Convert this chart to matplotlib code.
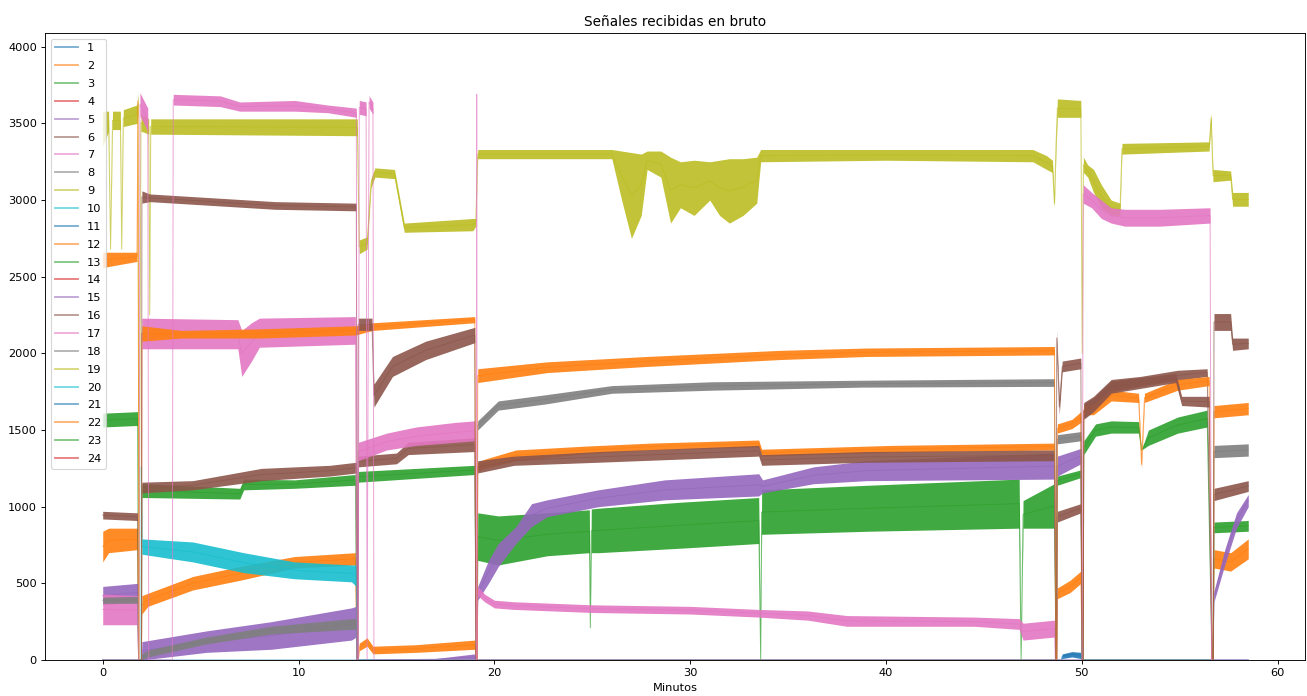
import numpy as np
import matplotlib
matplotlib.use("Agg")
import matplotlib.pyplot as plt

# every series: (minute, low edge of the noise band, high edge)
END = 58.5
ZERO = [(0, 0, 0), (END, 0, 0)]

s01 = [(0, 0, 0), (48.95, 0, 0), (49.0, 10, 40), (49.5, 20, 55), (49.95, 10, 50), (50.0, 0, 0), (END, 0, 0)]

s02 = [(0, 640, 840), (0.3, 700, 860), (1.78, 720, 860), (1.83, 0, 0), (1.98, 0, 0), (2.0, 300, 420),
       (2.3, 350, 435), (4.6, 457, 545), (7.0, 520, 610), (9.8, 600, 675), (12.9, 620, 700), (12.98, 0, 0),
       (13.05, 0, 0), (13.1, 60, 110), (13.5, 90, 145), (13.8, 40, 90), (16.0, 50, 100), (19.0, 70, 130),
       (19.08, 0, 0), (19.12, 0, 0), (19.15, 1230, 1290), (19.5, 1250, 1310), (21.1, 1300, 1370),
       (24.6, 1345, 1395), (28.0, 1370, 1415), (33.5, 1390, 1435), (33.65, 1330, 1375), (40.3, 1355, 1400),
       (48.6, 1370, 1415), (48.68, 0, 0), (48.72, 0, 0), (48.75, 400, 470), (49.4, 440, 520),
       (49.95, 500, 580), (50.02, 0, 0), (56.68, 0, 0), (56.75, 600, 720), (57.6, 580, 700), (END, 660, 790)]

s03 = [(0, 1520, 1610), (1.78, 1530, 1620), (1.83, 0, 0), (1.98, 0, 0), (2.0, 1060, 1150), (7.0, 1050, 1120),
       (7.2, 1110, 1180), (9.8, 1120, 1175), (12.9, 1140, 1210), (12.98, 0, 0), (13.03, 0, 0),
       (13.05, 1160, 1230), (19.0, 1210, 1270), (19.08, 0, 0), (19.12, 0, 0), (19.15, 650, 960),
       (20.2, 620, 940), (22.7, 680, 960), (24.85, 700, 980), (24.9, 210, 210), (24.95, 700, 985),
       (25.3, 700, 990), (29.6, 730, 1030), (33.5, 760, 1060), (33.6, 0, 0), (33.65, 820, 1110),
       (39.1, 840, 1140), (46.8, 860, 1180), (46.9, 0, 0), (47.0, 860, 1040), (48.6, 860, 1150),
       (48.68, 0, 0), (48.75, 1140, 1200), (49.95, 1190, 1240), (50.02, 0, 0), (50.07, 0, 0),
       (50.1, 1340, 1430), (50.7, 1460, 1540), (51.5, 1480, 1560), (52.9, 1480, 1555), (53.05, 1370, 1370),
       (53.4, 1400, 1500), (54.9, 1480, 1585), (56.4, 1520, 1630), (56.65, 0, 0), (56.72, 0, 0),
       (56.75, 830, 900), (END, 840, 910)]

s05 = [(0, 360, 480), (1.78, 380, 500), (1.83, 0, 0), (1.98, 0, 0), (2.0, 0, 120), (5.3, 50, 190),
       (8.6, 70, 250), (12.7, 130, 340), (12.95, 150, 350), (13.0, 0, 0), (17.0, 0, 10), (19.0, 0, 40),
       (19.1, 0, 0), (19.15, 390, 480), (19.7, 500, 650), (20.2, 610, 760), (21.1, 760, 870),
       (21.9, 870, 1020), (22.7, 935, 1045), (25.3, 1000, 1110), (28.7, 1045, 1175), (33.5, 1070, 1215),
       (33.7, 1090, 1175), (36.3, 1150, 1260), (39.0, 1170, 1300), (48.6, 1180, 1350), (48.68, 0, 0),
       (48.72, 0, 0), (48.75, 1200, 1330), (49.95, 1280, 1380), (50.02, 0, 0), (56.68, 0, 0),
       (56.75, 380, 450), (57.3, 620, 720), (57.9, 860, 960), (END, 1000, 1080)]

s06 = [(0, 920, 970), (1.78, 910, 960), (1.83, 0, 0), (1.98, 0, 0), (2.0, 1090, 1160), (4.6, 1110, 1170),
       (8.1, 1170, 1250), (11.6, 1200, 1270), (12.95, 1220, 1290), (13.0, 0, 0), (13.03, 0, 0),
       (13.05, 1260, 1330), (15.0, 1280, 1350), (15.6, 1340, 1420), (19.0, 1360, 1450), (19.08, 0, 0),
       (19.12, 0, 0), (19.15, 1220, 1300), (21.0, 1270, 1330), (25.3, 1290, 1360), (33.5, 1330, 1400),
       (33.65, 1270, 1340), (39.0, 1290, 1360), (48.6, 1300, 1370), (48.68, 0, 0), (48.72, 0, 0),
       (48.75, 900, 970), (49.95, 960, 1020), (50.02, 0, 0), (50.07, 0, 0), (50.1, 1580, 1680),
       (50.6, 1630, 1720), (51.5, 1750, 1830), (53.0, 1785, 1850), (54.9, 1825, 1890), (56.4, 1850, 1900),
       (56.65, 0, 0), (56.72, 0, 0), (56.75, 1040, 1120), (END, 1100, 1170)]

s07 = [(0, 230, 430), (1.78, 230, 420), (1.83, 0, 0), (1.98, 0, 0), (2.0, 2030, 2230), (6.9, 2030, 2220),
       (7.1, 1850, 2150), (7.6, 1950, 2200), (8.0, 2040, 2230), (12.9, 2060, 2240), (12.98, 0, 0),
       (13.03, 0, 0), (13.05, 1300, 1420), (14.5, 1370, 1480), (16.0, 1400, 1520), (18.0, 1420, 1550),
       (19.0, 1430, 1560), (19.08, 0, 0), (19.12, 0, 0), (19.15, 420, 480), (19.5, 380, 430),
       (20.0, 340, 390), (21.0, 330, 380), (25.0, 310, 360), (30.0, 300, 350), (33.5, 280, 330),
       (36.0, 260, 320), (38.0, 220, 290), (44.5, 220, 280), (46.8, 200, 270), (47.0, 130, 240),
       (48.6, 150, 260), (48.65, 0, 0), (END, 0, 0)]

s08 = [(0, 370, 410), (1.78, 370, 415), (1.83, 0, 0), (1.98, 0, 0), (2.0, 0, 40), (2.3, 20, 65),
       (5.3, 105, 150), (8.6, 170, 220), (12.7, 200, 270), (12.95, 200, 270), (13.0, 0, 0), (19.1, 0, 0),
       (19.15, 1500, 1560), (20.2, 1630, 1690), (22.6, 1670, 1730), (26.0, 1740, 1790), (31.1, 1760, 1815),
       (38.8, 1780, 1825), (48.6, 1785, 1835), (48.68, 0, 0), (48.72, 0, 0), (48.75, 1410, 1470),
       (49.95, 1430, 1490), (50.02, 0, 0), (56.68, 0, 0), (56.75, 1320, 1400), (END, 1330, 1410)]

s09 = [(0, 3350, 3580), (0.3, 3450, 3580), (0.4, 2680, 2680), (0.5, 3460, 3580), (0.9, 3460, 3580),
       (0.97, 2680, 2680), (1.05, 3480, 3590), (1.75, 3500, 3620), (1.8, 3560, 3700), (1.85, 0, 0),
       (1.95, 3450, 3560), (2.35, 3430, 3530), (2.4, 2250, 2250), (2.45, 3430, 3530), (13.0, 3420, 3530),
       (13.1, 2650, 2740), (13.5, 2680, 2760), (13.7, 3080, 3140), (13.9, 3150, 3210), (14.9, 3140, 3200),
       (15.4, 2790, 2850), (18.9, 2800, 2880), (19.05, 2830, 2880), (19.15, 3270, 3330), (26.0, 3270, 3330),
       (26.5, 3000, 3320), (27.0, 2750, 3310), (27.5, 2900, 3300), (27.8, 3200, 3320), (28.5, 3150, 3320),
       (29.0, 2850, 3280), (29.5, 2950, 3250), (30.2, 2900, 3260), (31.0, 3000, 3250), (31.5, 2900, 3260),
       (32.0, 2850, 3270), (32.7, 2900, 3270), (33.4, 2980, 3280), (33.6, 3250, 3330), (40.0, 3260, 3330),
       (47.5, 3250, 3330), (48.2, 3200, 3290), (48.5, 3180, 3260), (48.6, 2950, 3000), (48.68, 3300, 3400),
       (48.75, 3540, 3660), (49.95, 3540, 3650), (50.02, 2000, 2000), (50.08, 3180, 3280),
       (50.3, 3150, 3230), (50.6, 3050, 3200), (51.0, 2950, 3100), (51.5, 2900, 3000), (51.95, 2900, 2980),
       (52.05, 3300, 3370), (56.5, 3320, 3380), (56.6, 3500, 3570), (56.7, 3120, 3200), (57.6, 3130, 3190),
       (57.7, 2960, 3050), (END, 2960, 3050)]

s10 = [(0, 0, 0), (1.95, 0, 0), (1.97, 1260, 1260), (2.0, 690, 790), (4.6, 640, 770), (7.2, 570, 700),
       (9.8, 530, 640), (12.7, 510, 620), (12.95, 480, 620), (13.0, 0, 0), (50.0, 0, 0), (50.03, 260, 260),
       (50.06, 0, 0), (END, 0, 0)]

s12 = [(0, 2560, 2660), (1.75, 2600, 2660), (1.8, 3650, 3650), (1.85, 0, 0), (1.98, 0, 0), (2.0, 2080, 2180),
       (4.0, 2100, 2150), (8.0, 2100, 2160), (12.9, 2120, 2180), (13.8, 2150, 2200), (19.0, 2200, 2240),
       (19.08, 0, 0), (19.12, 0, 0), (19.15, 1810, 1900), (22.7, 1875, 1945), (27.8, 1915, 1980),
       (34.6, 1960, 2020), (39.0, 1980, 2035), (48.6, 1990, 2045), (48.68, 0, 0), (48.72, 0, 0),
       (48.75, 1480, 1540), (49.5, 1510, 1570), (49.95, 1550, 1620), (50.02, 0, 0), (50.07, 0, 0),
       (50.1, 1600, 1660), (50.6, 1600, 1670), (51.5, 1690, 1760), (52.9, 1680, 1740), (53.05, 1250, 1300),
       (53.2, 1680, 1740), (54.9, 1760, 1830), (56.5, 1790, 1850), (56.65, 0, 0), (56.72, 0, 0),
       (56.75, 1580, 1660), (END, 1600, 1680)]

s16 = [(0, 0, 0), (1.98, 0, 0), (2.0, 2980, 3060), (2.4, 2990, 3040), (8.8, 2940, 2990), (12.95, 2930, 2980),
       (13.0, 0, 0), (13.03, 0, 0), (13.05, 2150, 2230), (13.75, 2150, 2230), (13.85, 1650, 1800),
       (14.8, 1850, 1980), (16.5, 1960, 2080), (19.0, 2070, 2170), (19.05, 0, 0), (48.68, 0, 0),
       (48.72, 2050, 2150), (48.85, 1600, 1700), (49.0, 1880, 1950), (49.95, 1900, 1970), (50.02, 0, 0),
       (50.07, 0, 0), (50.1, 1570, 1670), (50.6, 1620, 1710), (51.5, 1740, 1820), (54.8, 1810, 1870),
       (55.1, 1660, 1720), (56.5, 1650, 1720), (56.65, 0, 0), (56.72, 0, 0), (56.75, 2150, 2260),
       (57.6, 2150, 2260), (57.7, 2020, 2100), (END, 2030, 2100)]

s17 = [(0, 0, 0), (1.85, 0, 0), (1.9, 3550, 3700), (2.3, 3450, 3600), (2.35, 0, 0), (3.55, 0, 0),
       (3.6, 3620, 3690), (6.0, 3610, 3680), (7.0, 3580, 3640), (9.8, 3580, 3650), (11.5, 3570, 3620),
       (12.95, 3540, 3600), (13.0, 0, 0), (13.05, 0, 0), (13.1, 3560, 3650), (13.45, 3550, 3640),
       (13.5, 0, 0), (13.6, 3600, 3680), (13.8, 3560, 3640), (13.85, 0, 0), (19.08, 0, 0),
       (19.1, 3690, 3690), (19.12, 0, 0), (50.02, 0, 0), (50.07, 2980, 3100), (50.5, 2950, 3050),
       (51.0, 2880, 3000), (51.5, 2850, 2950), (52.2, 2830, 2940), (54.0, 2830, 2940), (56.55, 2850, 2950),
       (56.62, 0, 0), (END, 0, 0)]

series = [s01, s02, s03, ZERO, s05, s06, s07, s08, s09, s10,
          ZERO, s12, ZERO, ZERO, ZERO, s16, s17, ZERO, ZERO, ZERO,
          ZERO, ZERO, ZERO, ZERO]

fig, ax = plt.subplots(figsize=(1307 / 82, 696 / 82), dpi=82)
fig.subplots_adjust(left=0.0344, right=0.9985, bottom=0.0517, top=0.9526)
colors = plt.rcParams['axes.prop_cycle'].by_key()['color']

for i, s in enumerate(series):
    arr = np.array(s, dtype=float)
    t, lo, hi = arr[:, 0], arr[:, 1], arr[:, 2]
    c = colors[i % 10]
    ax.fill_between(t, lo, hi, color=c, lw=0, alpha=0.9, zorder=2)
    ax.plot(t, (lo + hi) / 2, color=c, lw=0.8, alpha=0.7, label=str(i + 1), zorder=2)

ax.set_xlim(-2.95, 61.4)
ax.set_ylim(0, 4090)
ax.set_title("Señales recibidas en bruto")
ax.set_xlabel("Minutos")
leg = ax.legend(loc="upper left", labelspacing=0.69)
for line in leg.get_lines():
    line.set_linewidth(1.6)
    line.set_alpha(0.6)

fig.savefig("out.png", dpi=82)
